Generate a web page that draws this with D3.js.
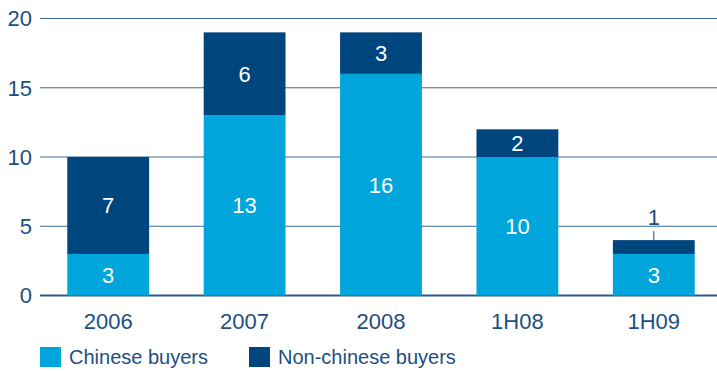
<!DOCTYPE html>
<html>
<head>
<meta charset="utf-8">
<script src="https://cdn.jsdelivr.net/npm/d3@7"></script>
<style>
  body { margin: 0; background: #fff; }
  text { font-family: "Liberation Sans", Arial, sans-serif; }
</style>
</head>
<body>
<div id="chart"></div>
<script>
var categories = ["2006", "2007", "2008", "1H08", "1H09"];
var chinese = [3, 13, 16, 10, 3];
var nonChinese = [7, 6, 3, 2, 1];
var yTicks = [0, 5, 10, 15, 20];
var seriesNames = ["Chinese buyers", "Non-chinese buyers"];
var colors = ["#00a6db", "#00467e"];
var textColor = "#1b4f82";

var width = 717, height = 371;
var svg = d3.select("#chart").append("svg")
  .attr("width", width).attr("height", height);

// scales
var x = d3.scaleBand().domain(categories).range([40, 722]).paddingInner(0.4).paddingOuter(0.2);
var y = d3.scaleLinear().domain([0, 20]).range([295.5, 18.5]);

// gridlines
svg.append("g").selectAll("line")
  .data(yTicks).enter().append("line")
  .attr("x1", 40).attr("x2", width)
  .attr("y1", function(d) { return y(d); })
  .attr("y2", function(d) { return y(d); })
  .attr("stroke", function(d) { return d == 0 ? "#2b5d8c" : "#3a6d9a"; })
  .attr("stroke-width", function(d) { return d == 0 ? 2 : 1; });

// y labels
svg.append("g").selectAll("text")
  .data(yTicks).enter().append("text")
  .attr("x", 32)
  .attr("y", function(d) { return y(d); })
  .attr("dy", "0.36em")
  .attr("text-anchor", "end")
  .attr("font-size", 22)
  .attr("fill", textColor)
  .text(function(d) { return d; });

// stacked bars
var rows = categories.map(function(c, i) { return {cat: c, a: chinese[i], b: nonChinese[i]}; });
var bars = svg.append("g");
rows.forEach(function(d) {
  var bx = x(d.cat), bw = x.bandwidth();
  bars.append("rect")
    .attr("x", bx).attr("width", bw)
    .attr("y", y(d.a)).attr("height", y(0) - y(d.a))
    .attr("fill", colors[0]);
  bars.append("rect")
    .attr("x", bx).attr("width", bw)
    .attr("y", y(d.a + d.b)).attr("height", y(d.a) - y(d.a + d.b))
    .attr("fill", colors[1]);
  // label for chinese
  bars.append("text")
    .attr("x", bx + bw / 2).attr("y", (y(0) + y(d.a)) / 2)
    .attr("dy", "0.36em").attr("text-anchor", "middle")
    .attr("font-size", 22).attr("fill", "#fff")
    .text(d.a);
  // label for non-chinese
  if (d.b > 1) {
    bars.append("text")
      .attr("x", bx + bw / 2).attr("y", (y(d.a) + y(d.a + d.b)) / 2)
      .attr("dy", "0.36em").attr("text-anchor", "middle")
      .attr("font-size", 22).attr("fill", "#fff")
      .text(d.b);
  } else {
    // small segment: label above with leader line
    var top = y(d.a + d.b);
    bars.append("line")
      .attr("x1", bx + bw / 2).attr("x2", bx + bw / 2)
      .attr("y1", top).attr("y2", top - 9)
      .attr("stroke", textColor).attr("stroke-width", 1);
    bars.append("text")
      .attr("x", bx + bw / 2).attr("y", top - 23)
      .attr("dy", "0.36em").attr("text-anchor", "middle")
      .attr("font-size", 22).attr("fill", textColor)
      .text(d.b);
  }
});

// x labels
svg.append("g").selectAll("text")
  .data(categories).enter().append("text")
  .attr("x", function(d) { return x(d) + x.bandwidth() / 2; })
  .attr("y", 321)
  .attr("dy", "0.36em")
  .attr("text-anchor", "middle")
  .attr("font-size", 22)
  .attr("fill", textColor)
  .text(function(d) { return d; });

// legend
var legendX = [40, 249];
var legend = svg.append("g");
seriesNames.forEach(function(name, i) {
  legend.append("rect")
    .attr("x", legendX[i]).attr("y", 347)
    .attr("width", 21).attr("height", 20)
    .attr("fill", colors[i]);
  legend.append("text")
    .attr("x", legendX[i] + 29).attr("y", 357)
    .attr("dy", "0.36em")
    .attr("font-size", 20)
    .attr("fill", textColor)
    .text(name);
});
</script>
</body>
</html>
